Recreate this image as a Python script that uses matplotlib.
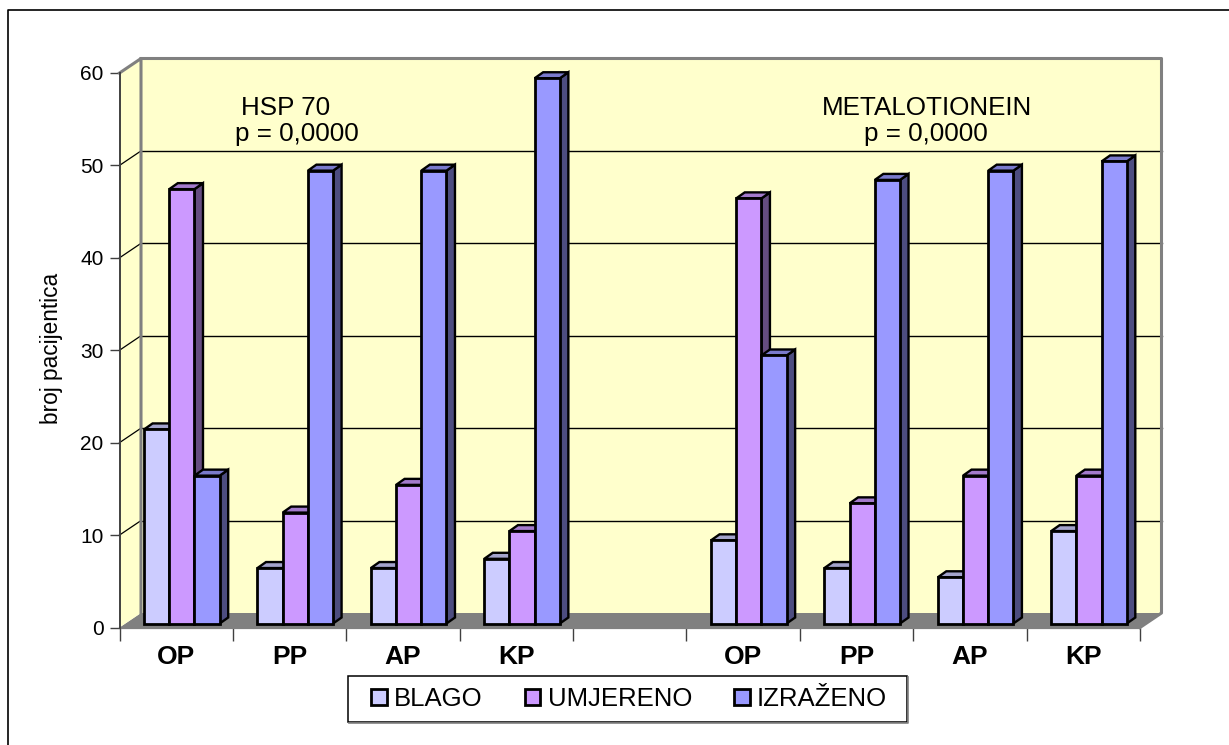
import matplotlib
matplotlib.use("Agg")
import matplotlib.pyplot as plt
from matplotlib.lines import Line2D
from matplotlib.patches import Patch, Polygon, Rectangle
import numpy as np

plt.rcParams['font.family'] = ['Liberation Sans', 'DejaVu Sans']

categories = ["OP", "PP", "AP", "KP", "", "OP", "PP", "AP", "KP"]
blago = [21, 6, 6, 7, np.nan, 9, 6, 5, 10]
umjereno = [47, 12, 15, 10, np.nan, 46, 13, 16, 16]
izrazeno = [16, 49, 49, 59, np.nan, 29, 48, 49, 50]
yticks = [0, 10, 20, 30, 40, 50, 60]

W, H = 1229, 745
wall_color = "#FFFFCC"
wall_edge = "#808080"

# (face, top, side) colours of each series
series = [
    ("BLAGO", blago, "#CCCCFF", "#A3A3CC", "#666680"),
    ("UMJERENO", umjereno, "#CC99FF", "#A37ACC", "#664D80"),
    ("IZRAŽENO", izrazeno, "#9999FF", "#7A7ACC", "#4D4D80"),
]

fig = plt.figure(figsize=(W / 100, H / 100), dpi=100)
# the axes is the front plane of the fake 3D box
left, right, y0, y60 = 119.5, 1140, 627.5, 73
ax = fig.add_axes([left / W, 1 - y0 / H, (right - left) / W, (y0 - y60) / H])
ax.set_xlim(0, len(categories))
ax.set_ylim(0, 60)
ax.patch.set_visible(False)
for s in ax.spines.values():
    s.set_visible(False)

px = len(categories) / (right - left)
py = 60 / (y0 - y60)
dx, dy = 21.5 * px, 14.5 * py  # box depth
n = len(categories)

# walls and floor
ax.add_patch(Polygon([(0, 0), (dx, dy), (n + dx, dy), (n, 0)], fc=wall_edge, ec="none", zorder=1, clip_on=False))
ax.add_patch(Polygon([(0, 0), (dx, dy), (dx, 60 + dy), (0, 60)], fc=wall_color, ec="none", zorder=1, clip_on=False))
ax.add_patch(Rectangle((dx, dy), n, 60, fc=wall_color, ec="none", zorder=1, clip_on=False))
ax.plot([0, dx, dx], [60, 60 + dy, dy], color=wall_edge, lw=2.2, zorder=3, clip_on=False)
ax.plot([dx, n + dx, n + dx, n], [60 + dy, 60 + dy, dy, 0], color=wall_edge, lw=2.2, zorder=3, clip_on=False)

# gridlines, horizontal part apart so it snaps to one dark pixel row
for t in yticks[1:-1]:
    ax.plot([0, dx], [t, t + dy], color="black", lw=0.9, zorder=2, clip_on=False)
    ax.plot([dx, n + dx], [t + dy, t + dy], color="black", lw=1.0, zorder=2, clip_on=False)
ax.plot([0, n], [0, 0], color=wall_edge, lw=1.6, zorder=2, clip_on=False)
ax.plot([0, 0], [0, 60], color="#404040", lw=1.4, zorder=3, clip_on=False)

# bars
bar_w = 25.2 * px
shift_x, shift_y = 5.7 * px, 4 * py
bdx, bdy = 8.5 * px, 6 * py
start = 0.5 + shift_x - 1.5 * bar_w
z = 10
for i in range(n):
    for j, (name, vals, face, top, side) in enumerate(series):
        v = vals[i]
        if np.isnan(v):
            continue
        x0 = i + start + j * bar_w
        ax.add_patch(Polygon([(x0 + bar_w, shift_y), (x0 + bar_w + bdx, shift_y + bdy),
                              (x0 + bar_w + bdx, v + shift_y + bdy), (x0 + bar_w, v + shift_y)],
                             fc=side, ec="black", lw=1.7, zorder=z, clip_on=False))
        ax.add_patch(Polygon([(x0, v + shift_y), (x0 + bdx, v + shift_y + bdy),
                              (x0 + bar_w + bdx, v + shift_y + bdy), (x0 + bar_w, v + shift_y)],
                             fc=top, ec="black", lw=1.7, zorder=z, clip_on=False))
        ax.bar(x0, v, width=bar_w, bottom=shift_y, align="edge", color=face,
               edgecolor="black", lw=2.0, zorder=z + 1, clip_on=False)
        z += 2

# ticks
ax.set_yticks(yticks)
ax.set_xticks(np.arange(n + 1))
ax.set_xticklabels([])
ax.tick_params(axis="y", length=7, width=1, color="#404040", labelsize=15, pad=4.5)
ax.tick_params(axis="x", length=9, width=1, color="#404040")
for i, c in enumerate(categories):
    ax.annotate(c, (i + 0.5, 0), xytext=(0, -29), textcoords="offset pixels", ha="center", va="center",
                fontsize=19, fontweight="bold")

ax.set_ylabel("broj pacijentica", fontsize=16.3, labelpad=0)
ax.yaxis.set_label_coords(-0.0558, 0.504)

fig.text(286 / W, 1 - 108 / H, "HSP 70", fontsize=18.7, ha="center", va="center")
fig.text(297 / W, 1 - 134 / H, "p = 0,0000", fontsize=18.7, ha="center", va="center")
fig.text(927.5 / W, 1 - 108 / H, "METALOTIONEIN", fontsize=18.7, ha="center", va="center")
fig.text(926 / W, 1 - 134 / H, "p = 0,0000", fontsize=18.7, ha="center", va="center")

# legend box with its grey shadow edge
fig.add_artist(Line2D([349 / W, 908 / W, 908 / W], [1 - 722.5 / H, 1 - 722.5 / H, 1 - 677 / H],
                      transform=fig.transFigure, color=wall_edge, lw=1.2))
fig.add_artist(Rectangle((348 / W, 1 - 721.5 / H), (907 - 348) / W, 45.5 / H, transform=fig.transFigure,
                         fc="white", ec="black", lw=1.1))
handles = [Patch(fc=s[2], ec="black", lw=2, label=s[0]) for s in series]
fig.legend(handles=handles, ncol=3, loc="center", bbox_to_anchor=(629 / W, 1 - 699 / H),
           fontsize=18.5, frameon=False, handlelength=0.62, handleheight=0.62,
           handletextpad=0.28, columnspacing=1.62, borderpad=0, borderaxespad=0)

# outer border: only left and top are inside the picture
fig.add_artist(Line2D([8 / W, 8 / W, 1], [0, 1 - 10 / H, 1 - 10 / H], transform=fig.transFigure,
                      color="black", lw=1.2))

fig.savefig("out.png", dpi=100)
